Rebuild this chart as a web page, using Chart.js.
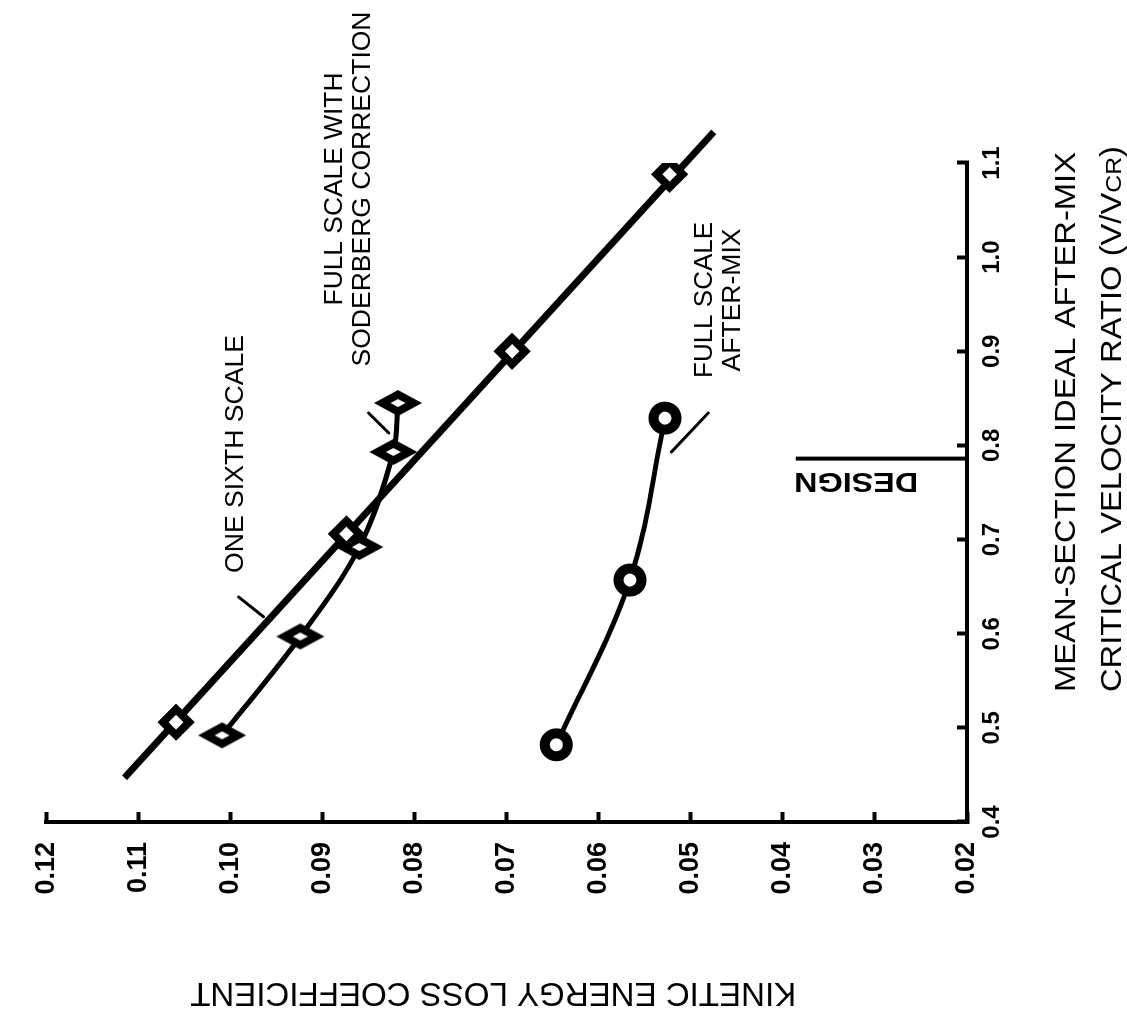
<!DOCTYPE html>
<html>
<head>
<meta charset="utf-8">
<title>Kinetic energy loss coefficient vs velocity ratio</title>
<script src="https://cdn.jsdelivr.net/npm/chart.js"></script>
<style>
  html, body { margin: 0; padding: 0; background: #fff; overflow: hidden; }
  /* the figure is printed a quarter turn round: draw it upright, then turn it */
  #wrap {
    position: absolute; left: 0; top: 0;
    width: 1012px; height: 1127px;
    transform-origin: 0 0;
    transform: translateY(1012px) rotate(-90deg);
  }
</style>
</head>
<body>
<div id="wrap"><canvas id="chart" width="1012" height="1127"></canvas></div>

<script>
  // x = mean-section ideal after-mix critical velocity ratio, y = kinetic energy loss coefficient
  const sixthX = [0.506, 0.706, 0.900, 1.088];
  const sixthY = [0.1059, 0.0874, 0.0694, 0.0523];
  const sixthFitX = [0.447, 1.133];
  const sixthFitY = [0.1115, 0.0475];

  const soderbergX = [0.492, 0.597, 0.692, 0.793, 0.845];
  const soderbergY = [0.1009, 0.0924, 0.0860, 0.0823, 0.0818];

  const afterMixX = [0.482, 0.657, 0.829];
  const afterMixY = [0.0646, 0.0566, 0.0528];

  const designX = 0.786;

  const xTicks = [0.4, 0.5, 0.6, 0.7, 0.8, 0.9, 1.0, 1.1];
  const yTicks = [0.02, 0.03, 0.04, 0.05, 0.06, 0.07, 0.08, 0.09, 0.10, 0.11, 0.12];

  const FONT = '"Liberation Sans", Arial, Helvetica, sans-serif';

  const pts = (xs, ys) => xs.map((v, i) => ({ x: v, y: ys[i] }));

  // flattened diamond used for the Soderberg-corrected points
  function tallDiamond() {
    const c = document.createElement("canvas");
    c.width = 28; c.height = 50;
    const g = c.getContext("2d");
    const shape = (hw, hh) => {
      g.beginPath();
      g.moveTo(14, 25 - hh); g.lineTo(14 + hw, 25);
      g.lineTo(14, 25 + hh); g.lineTo(14 - hw, 25);
      g.closePath();
    };
    g.fillStyle = "#000"; shape(13, 24); g.fill();
    g.fillStyle = "#fff"; shape(4, 7.5); g.fill();
    return c;
  }

  // text helper: runs of [text, size factor], stretched to a given width
  function drawText(ctx, runs, x, y, opt) {
    ctx.save();
    ctx.translate(x, y);
    if (opt.angle) ctx.rotate(opt.angle);
    const fontFor = f => `${opt.weight || "normal"} ${Math.round(opt.size * f)}px ${FONT}`;
    let w = 0;
    runs.forEach(([t, f]) => { ctx.font = fontFor(f); w += ctx.measureText(t).width; });
    const k = opt.width ? opt.width / w : 1;
    ctx.scale(k, 1);
    let cx = opt.align === "center" ? -w / 2 : 0;
    ctx.textAlign = "left";
    ctx.textBaseline = "alphabetic";
    runs.forEach(([t, f]) => {
      ctx.font = fontFor(f);
      ctx.fillText(t, cx, 0);
      cx += ctx.measureText(t).width;
    });
    ctx.restore();
  }

  // labels, leader lines, design marker and axis titles
  const notes = {
    id: "notes",
    afterDraw(chart) {
      const { ctx, chartArea: a } = chart;
      const px = v => chart.scales.x.getPixelForValue(v);
      const py = v => chart.scales.y.getPixelForValue(v);
      ctx.save();
      ctx.fillStyle = "#000";
      ctx.strokeStyle = "#000";
      ctx.lineCap = "round";

      // leader lines
      ctx.lineWidth = 3;
      [[0.639, 0.0991, 0.618, 0.0964],
       [0.8345, 0.0850, 0.8132, 0.0828],
       [0.793, 0.0521, 0.8345, 0.0481]].forEach(([x1, y1, x2, y2]) => {
        ctx.beginPath();
        ctx.moveTo(px(x1), py(y1));
        ctx.lineTo(px(x2), py(y2));
        ctx.stroke();
      });

      // design line
      ctx.lineWidth = 4;
      ctx.lineCap = "butt";
      ctx.beginPath();
      ctx.moveTo(px(designX), py(0.0386));
      ctx.lineTo(px(designX), a.bottom);
      ctx.stroke();
      drawText(ctx, [["DESIGN", 1]], px(0.7707), py(0.0253),
        { size: 28, weight: "bold", width: 124, angle: -Math.PI / 2 });

      // series labels
      drawText(ctx, [["ONE SIXTH SCALE", 1]], px(0.6645), py(0.0986), { size: 26, width: 238 });
      drawText(ctx, [["FULL SCALE WITH", 1]], px(1.0724), py(0.0879), { size: 26, align: "center", width: 233 });
      drawText(ctx, [["SODERBERG CORRECTION", 1]], px(1.0724), py(0.0848), { size: 26, align: "center", width: 355 });
      drawText(ctx, [["FULL SCALE", 1]], px(0.9545), py(0.0477), { size: 26, align: "center", width: 156 });
      drawText(ctx, [["AFTER-MIX", 1]], px(0.9545), py(0.0447), { size: 26, align: "center", width: 143 });

      // axis titles
      drawText(ctx, [["MEAN-SECTION IDEAL AFTER-MIX", 1]], a.left + 400, a.bottom + 108,
        { size: 29, align: "center", width: 540 });
      drawText(ctx, [["CRITICAL VELOCITY RATIO (V/V", 1], ["CR", 0.75], [")", 1]], a.left + 403, a.bottom + 154,
        { size: 29, align: "center", width: 546 });
      drawText(ctx, [["KINETIC ENERGY LOSS COEFFICIENT", 1]], a.left - 161, a.top + 447,
        { size: 33, align: "center", width: 606, angle: -Math.PI / 2 });

      ctx.restore();
    }
  };

  const tickFontX = { family: FONT, size: 24, weight: "bold" };
  const tickFontY = { family: FONT, size: 27, weight: "bold" };
  const axisGrid = { display: true, drawOnChartArea: false, drawTicks: true, tickLength: -10, tickWidth: 4, tickColor: "#000" };
  const axisBorder = { display: true, color: "#000", width: 4 };

  new Chart("chart", {
    type: "scatter",
    data: {
      datasets: [
        {
          label: "One sixth scale",
          data: pts(sixthX, sixthY),
          showLine: false,
          pointStyle: "rectRot",
          pointRadius: 13,
          pointBorderWidth: 8,
          pointBackgroundColor: "#fff",
          pointBorderColor: "#000",
        },
        {
          label: "One sixth scale fit",
          data: pts(sixthFitX, sixthFitY),
          showLine: true,
          borderColor: "#000",
          borderWidth: 7,
          pointRadius: 0,
          clip: false,
        },
        {
          label: "Full scale with Soderberg correction",
          data: pts(soderbergX, soderbergY),
          showLine: true,
          tension: 0.35,
          borderColor: "#000",
          borderWidth: 5,
          pointStyle: tallDiamond(),
          pointRadius: 12,
        },
        {
          label: "Full scale after-mix",
          data: pts(afterMixX, afterMixY),
          showLine: true,
          tension: 0.35,
          borderColor: "#000",
          borderWidth: 5,
          pointStyle: "circle",
          pointRadius: 11.5,
          pointBorderWidth: 10,
          pointBackgroundColor: "#fff",
          pointBorderColor: "#000",
        },
      ],
    },
    options: {
      responsive: false,
      animation: false,
      events: [],
      layout: { padding: { top: 25, right: 163, left: 0, bottom: 0 } },
      plugins: { legend: { display: false }, tooltip: { enabled: false } },
      scales: {
        x: {
          type: "linear",
          position: "bottom",
          min: 0.4,
          max: 1.1,
          afterBuildTicks: (s) => { s.ticks = xTicks.map((v) => ({ value: v })); },
          afterFit: (s) => { s.height = 160; },
          ticks: { color: "#000", font: tickFontX, padding: 21, maxRotation: 0, autoSkip: false, callback: (v) => v.toFixed(1) },
          grid: axisGrid,
          border: axisBorder,
        },
        y: {
          type: "linear",
          position: "left",
          min: 0.02,
          max: 0.12,
          afterBuildTicks: (s) => { s.ticks = yTicks.map((v) => ({ value: v })); },
          afterFit: (s) => { s.width = 190; },
          ticks: { color: "#000", font: tickFontY, padding: 30, autoSkip: false, callback: (v) => v.toFixed(2) },
          grid: axisGrid,
          border: axisBorder,
        },
      },
    },
    plugins: [notes],
  });
</script>
</body>
</html>
